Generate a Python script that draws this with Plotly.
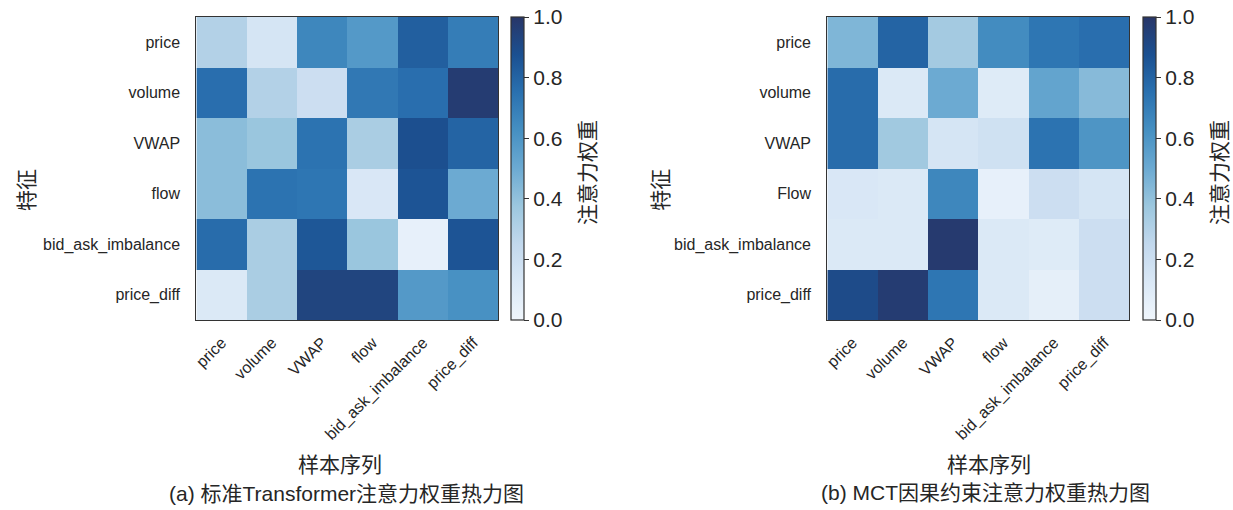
import plotly.graph_objects as go

x_labels_a = ["price", "volume", "VWAP", "flow", "bid_ask_imbalance", "price_diff"]
y_labels_a = ["price", "volume", "VWAP", "flow", "bid_ask_imbalance", "price_diff"]
x_labels_b = ["price", "volume", "VWAP", "flow", "bid_ask_imbalance", "price_diff"]
y_labels_b = ["price", "volume", "VWAP", "Flow", "bid_ask_imbalance", "price_diff"]

# rows top->bottom follow y labels
weights_a = [
    [0.30, 0.15, 0.66, 0.58, 0.82, 0.70],
    [0.76, 0.30, 0.20, 0.72, 0.76, 0.97],
    [0.42, 0.38, 0.74, 0.33, 0.88, 0.80],
    [0.42, 0.74, 0.73, 0.13, 0.86, 0.50],
    [0.77, 0.33, 0.85, 0.38, 0.05, 0.86],
    [0.12, 0.33, 0.93, 0.93, 0.58, 0.62],
]
weights_b = [
    [0.45, 0.80, 0.35, 0.64, 0.73, 0.76],
    [0.77, 0.12, 0.50, 0.10, 0.53, 0.43],
    [0.77, 0.36, 0.15, 0.18, 0.74, 0.60],
    [0.13, 0.12, 0.66, 0.05, 0.20, 0.15],
    [0.12, 0.12, 0.98, 0.12, 0.10, 0.20],
    [0.90, 0.97, 0.73, 0.12, 0.06, 0.20],
]

subtitle_a = "(a) 标准Transformer注意力权重热力图"
subtitle_b = "(b) MCT因果约束注意力权重热力图"
x_title = "样本序列"
y_title = "特征"
cb_title = "注意力权重"
cb_ticks = [0.0, 0.2, 0.4, 0.6, 0.8, 1.0]

blues = [
    [0.0, "rgb(240,246,252)"], [0.125, "rgb(218,232,246)"], [0.25, "rgb(194,216,237)"],
    [0.375, "rgb(156,199,222)"], [0.5, "rgb(108,170,210)"], [0.625, "rgb(70,144,194)"],
    [0.75, "rgb(42,113,176)"], [0.875, "rgb(27,80,145)"], [1.0, "rgb(40,54,104)"],
]

FONT = "Liberation Sans, Arial, sans-serif"
MIX = "Liberation Sans, Noto Sans CJK SC, sans-serif"
CJK = "Noto Sans CJK SC, sans-serif"
TXT = "#262626"

fig = go.Figure()
fig.add_trace(go.Heatmap(z=weights_a, x=x_labels_a, y=y_labels_a, coloraxis="coloraxis",
                         xaxis="x", yaxis="y"))
fig.add_trace(go.Heatmap(z=weights_b, x=x_labels_b, y=y_labels_b, coloraxis="coloraxis2",
                         xaxis="x2", yaxis="y2"))

ydom = [1 - 320 / 510, 1 - 17 / 510]

def cbar(xpos):
    return dict(
        x=xpos, xanchor="left", xpad=0, ypad=0,
        y=ydom[0], yanchor="bottom", len=ydom[1] - ydom[0], lenmode="fraction",
        thickness=13, outlinecolor="#333", outlinewidth=1.2,
        tickvals=cb_ticks, ticktext=[f"{v:.1f}" for v in cb_ticks],
        ticks="outside", ticklen=5, tickcolor="#333", tickwidth=1.2,
        tickfont=dict(family=FONT, size=21, color=TXT),
    )

axis_common = dict(showline=True, linecolor="#333", linewidth=1.2, mirror=True,
                   ticks="outside", tickcolor="rgba(0,0,0,0)",
                   showgrid=False, zeroline=False)
tickfont = dict(family=FONT, size=16, color=TXT)

fig.update_layout(
    width=1233, height=510,
    margin=dict(l=0, r=0, t=0, b=0),
    paper_bgcolor="white", plot_bgcolor="white",
    coloraxis=dict(colorscale=blues, cmin=0, cmax=1, colorbar=cbar(509 / 1233)),
    coloraxis2=dict(colorscale=blues, cmin=0, cmax=1, colorbar=cbar(1143 / 1233)),
    xaxis=dict(domain=[193 / 1233, 496 / 1233], anchor="y", tickangle=-45, ticklen=6,
               tickfont=tickfont, **axis_common),
    yaxis=dict(domain=ydom, anchor="x", autorange="reversed", ticklen=12,
               tickfont=tickfont, **axis_common),
    xaxis2=dict(domain=[826 / 1233, 1129 / 1233], anchor="y2", tickangle=-45, ticklen=6,
                tickfont=tickfont, **axis_common),
    yaxis2=dict(domain=ydom, anchor="x2", autorange="reversed", ticklen=12,
                tickfont=tickfont, **axis_common),
    showlegend=False,
)

def ann(text, x, y, size, angle=0, family=CJK):
    fig.add_annotation(text=text, x=x / 1233, y=1 - y / 510, xref="paper", yref="paper",
                       showarrow=False, textangle=angle, xanchor="center", yanchor="middle",
                       font=dict(family=family, size=size, color=TXT))

ann(cb_title, 584, 173, 21, -90)
ann(cb_title, 1218, 173, 21, -90)
ann(y_title, 21, 190, 21, -90)
ann(y_title, 657, 190, 21, -90)
ann(x_title, 337, 463, 21)
ann(x_title, 988, 463, 21)
ann(subtitle_a, 344, 493, 21, family=MIX)
ann(subtitle_b, 985, 492, 21, family=MIX)

fig.write_html("out.html", config={"displayModeBar": False},
               post_script="document.body.style.margin='0';document.body.style.padding='0';")
